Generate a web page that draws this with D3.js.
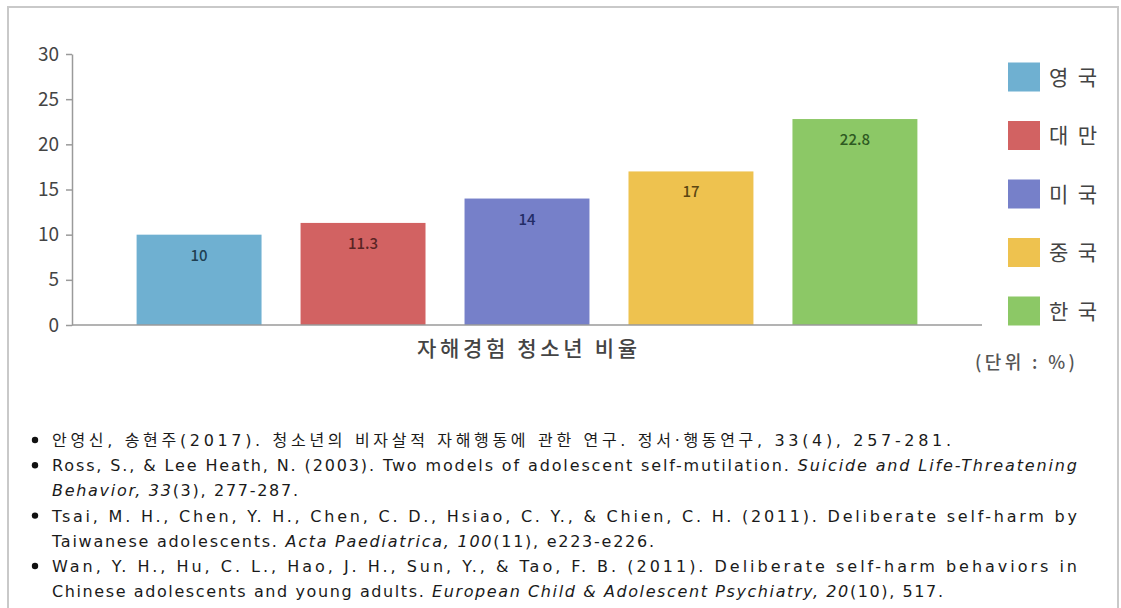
<!DOCTYPE html>
<html>
<head>
<meta charset="utf-8">
<script src="https://cdn.jsdelivr.net/npm/d3@7"></script>
<style>
  html, body { margin: 0; padding: 0; background: #fff; }
  svg { display: block; }
</style>
</head>
<body>
<svg id="chart" width="1121" height="608"></svg>
<script>
// 자해경험 청소년 비율 (국가별, 단위 %)
const countries = ["영국", "대만", "미국", "중국", "한국"];
const rates = [10, 11.3, 14, 17, 22.8];
const barColors = ["#6fb0d1", "#d26262", "#7680c9", "#eec24f", "#8cc866"];
const labelColors = ["#1f3f52", "#5a2424", "#222c66", "#5c4612", "#2e5a22"];
const yTicks = [0, 5, 10, 15, 20, 25, 30];
const axisTitle = "자해경험 청소년 비율";
const unitNote = "(단위 : %)";

// 참고문헌 (줄 단위; i = 이탤릭 구간)
const refLines = [
  { bullet: true,  parts: [{ t: "안영신, 송현주(2017). 청소년의 비자살적 자해행동에 관한 연구. 정서·행동연구, 33(4), 257-281." }] },
  { bullet: true,  parts: [{ t: "Ross, S., & Lee Heath, N. (2003). Two models of adolescent self-mutilation. " }, { t: "Suicide and Life-Threatening", i: true }] },
  { bullet: false, parts: [{ t: "Behavior, 33", i: true }, { t: "(3), 277-287." }] },
  { bullet: true,  parts: [{ t: "Tsai, M. H., Chen, Y. H., Chen, C. D., Hsiao, C. Y., & Chien, C. H. (2011). Deliberate self-harm by" }] },
  { bullet: false, parts: [{ t: "Taiwanese adolescents. " }, { t: "Acta Paediatrica, 100", i: true }, { t: "(11), e223-e226." }] },
  { bullet: true,  parts: [{ t: "Wan, Y. H., Hu, C. L., Hao, J. H., Sun, Y., & Tao, F. B. (2011). Deliberate self-harm behaviors in" }] },
  { bullet: false, parts: [{ t: "Chinese adolescents and young adults. " }, { t: "European Child & Adolescent Psychiatry, 20", i: true }, { t: "(10), 517." }] }
];
const refLineEnds = [951, 1077, 298, 1077, 654, 1077, 943];

const svg = d3.select("#chart");
const font = "'Noto Sans CJK KR', 'DejaVu Sans', sans-serif";
const refFont = "'DejaVu Sans', 'Noto Sans CJK KR', sans-serif";

// 바깥 테두리
svg.append("rect")
  .attr("x", 8).attr("y", 7).attr("width", 1110).attr("height", 610)
  .attr("fill", "#fff").attr("stroke", "#c9c9c9").attr("stroke-width", 2);

const plot = { left: 72, right: 982, top: 54, bottom: 325 };

const x = d3.scaleBand()
  .domain(countries)
  .range([plot.left, plot.right])
  .paddingInner(0.238)
  .paddingOuter(0.394);

const y = d3.scaleLinear()
  .domain([0, 30])
  .range([plot.bottom, plot.top]);

// y축
const yAxis = svg.append("g")
  .attr("transform", `translate(${plot.left},0)`)
  .call(d3.axisLeft(y).tickValues(yTicks).tickSize(6).tickPadding(7).tickSizeOuter(0));
yAxis.select(".domain").attr("stroke", "#9a9a9a").attr("stroke-width", 1.5);
yAxis.selectAll(".tick line").attr("stroke", "#9a9a9a").attr("stroke-width", 1.5);
yAxis.selectAll(".tick text")
  .attr("font-family", font).attr("font-size", 19).attr("fill", "#444");

// 막대
svg.append("g").selectAll("rect")
  .data(countries)
  .join("rect")
  .attr("x", d => x(d))
  .attr("y", (d, i) => y(rates[i]))
  .attr("width", x.bandwidth())
  .attr("height", (d, i) => y(0) - y(rates[i]))
  .attr("fill", (d, i) => barColors[i]);

// x축 선
svg.append("line")
  .attr("x1", plot.left).attr("x2", plot.right)
  .attr("y1", y(0)).attr("y2", y(0))
  .attr("stroke", "#9a9a9a").attr("stroke-width", 1.5);

// 값 레이블
svg.append("g").selectAll("text")
  .data(countries)
  .join("text")
  .attr("x", d => x(d) + x.bandwidth() / 2)
  .attr("y", (d, i) => y(rates[i]) + 26)
  .attr("text-anchor", "middle")
  .attr("font-family", font)
  .attr("font-size", 15)
  .attr("font-weight", 500)
  .attr("fill", (d, i) => labelColors[i])
  .text((d, i) => String(rates[i]));

// 축 제목
svg.append("text")
  .attr("x", 417)
  .attr("y", 356)
  .attr("font-family", font)
  .attr("font-size", 21)
  .attr("font-weight", 500)
  .attr("fill", "#444")
  .attr("textLength", 220)
  .attr("lengthAdjust", "spacing")
  .text(axisTitle);

// 범례
const legend = svg.append("g").selectAll("g")
  .data(countries)
  .join("g")
  .attr("transform", (d, i) => `translate(1008,${77 + i * 58.5})`);
legend.append("rect")
  .attr("x", 0).attr("y", -14.5).attr("width", 32).attr("height", 29)
  .attr("fill", (d, i) => barColors[i]);
legend.append("text")
  .attr("x", 41).attr("y", 7.5)
  .attr("font-family", font)
  .attr("font-size", 21)
  .attr("fill", "#444")
  .attr("textLength", 48)
  .attr("lengthAdjust", "spacing")
  .text(d => d);

// 단위
svg.append("text")
  .attr("x", 975).attr("y", 369)
  .attr("font-family", font)
  .attr("font-size", 18)
  .attr("font-weight", 500)
  .attr("fill", "#555")
  .attr("textLength", 100)
  .attr("lengthAdjust", "spacing")
  .text(unitNote);

// 참고문헌
const refG = svg.append("g");
refLines.forEach((line, k) => {
  const cy = 440 + k * 25.2;
  if (line.bullet) {
    refG.append("circle").attr("cx", 35).attr("cy", cy).attr("r", 3.2).attr("fill", "#111");
  }
  const t = refG.append("text")
    .attr("x", 52).attr("y", cy + 6)
    .attr("font-family", refFont)
    .attr("font-size", 16)
    .attr("fill", "#1a1a1a");
  line.parts.forEach(p => {
    t.append("tspan")
      .attr("font-style", p.i ? "italic" : "normal")
      .text(p.t);
  });
  t.attr("textLength", refLineEnds[k] - 52).attr("lengthAdjust", "spacing");
});
</script>
</body>
</html>
